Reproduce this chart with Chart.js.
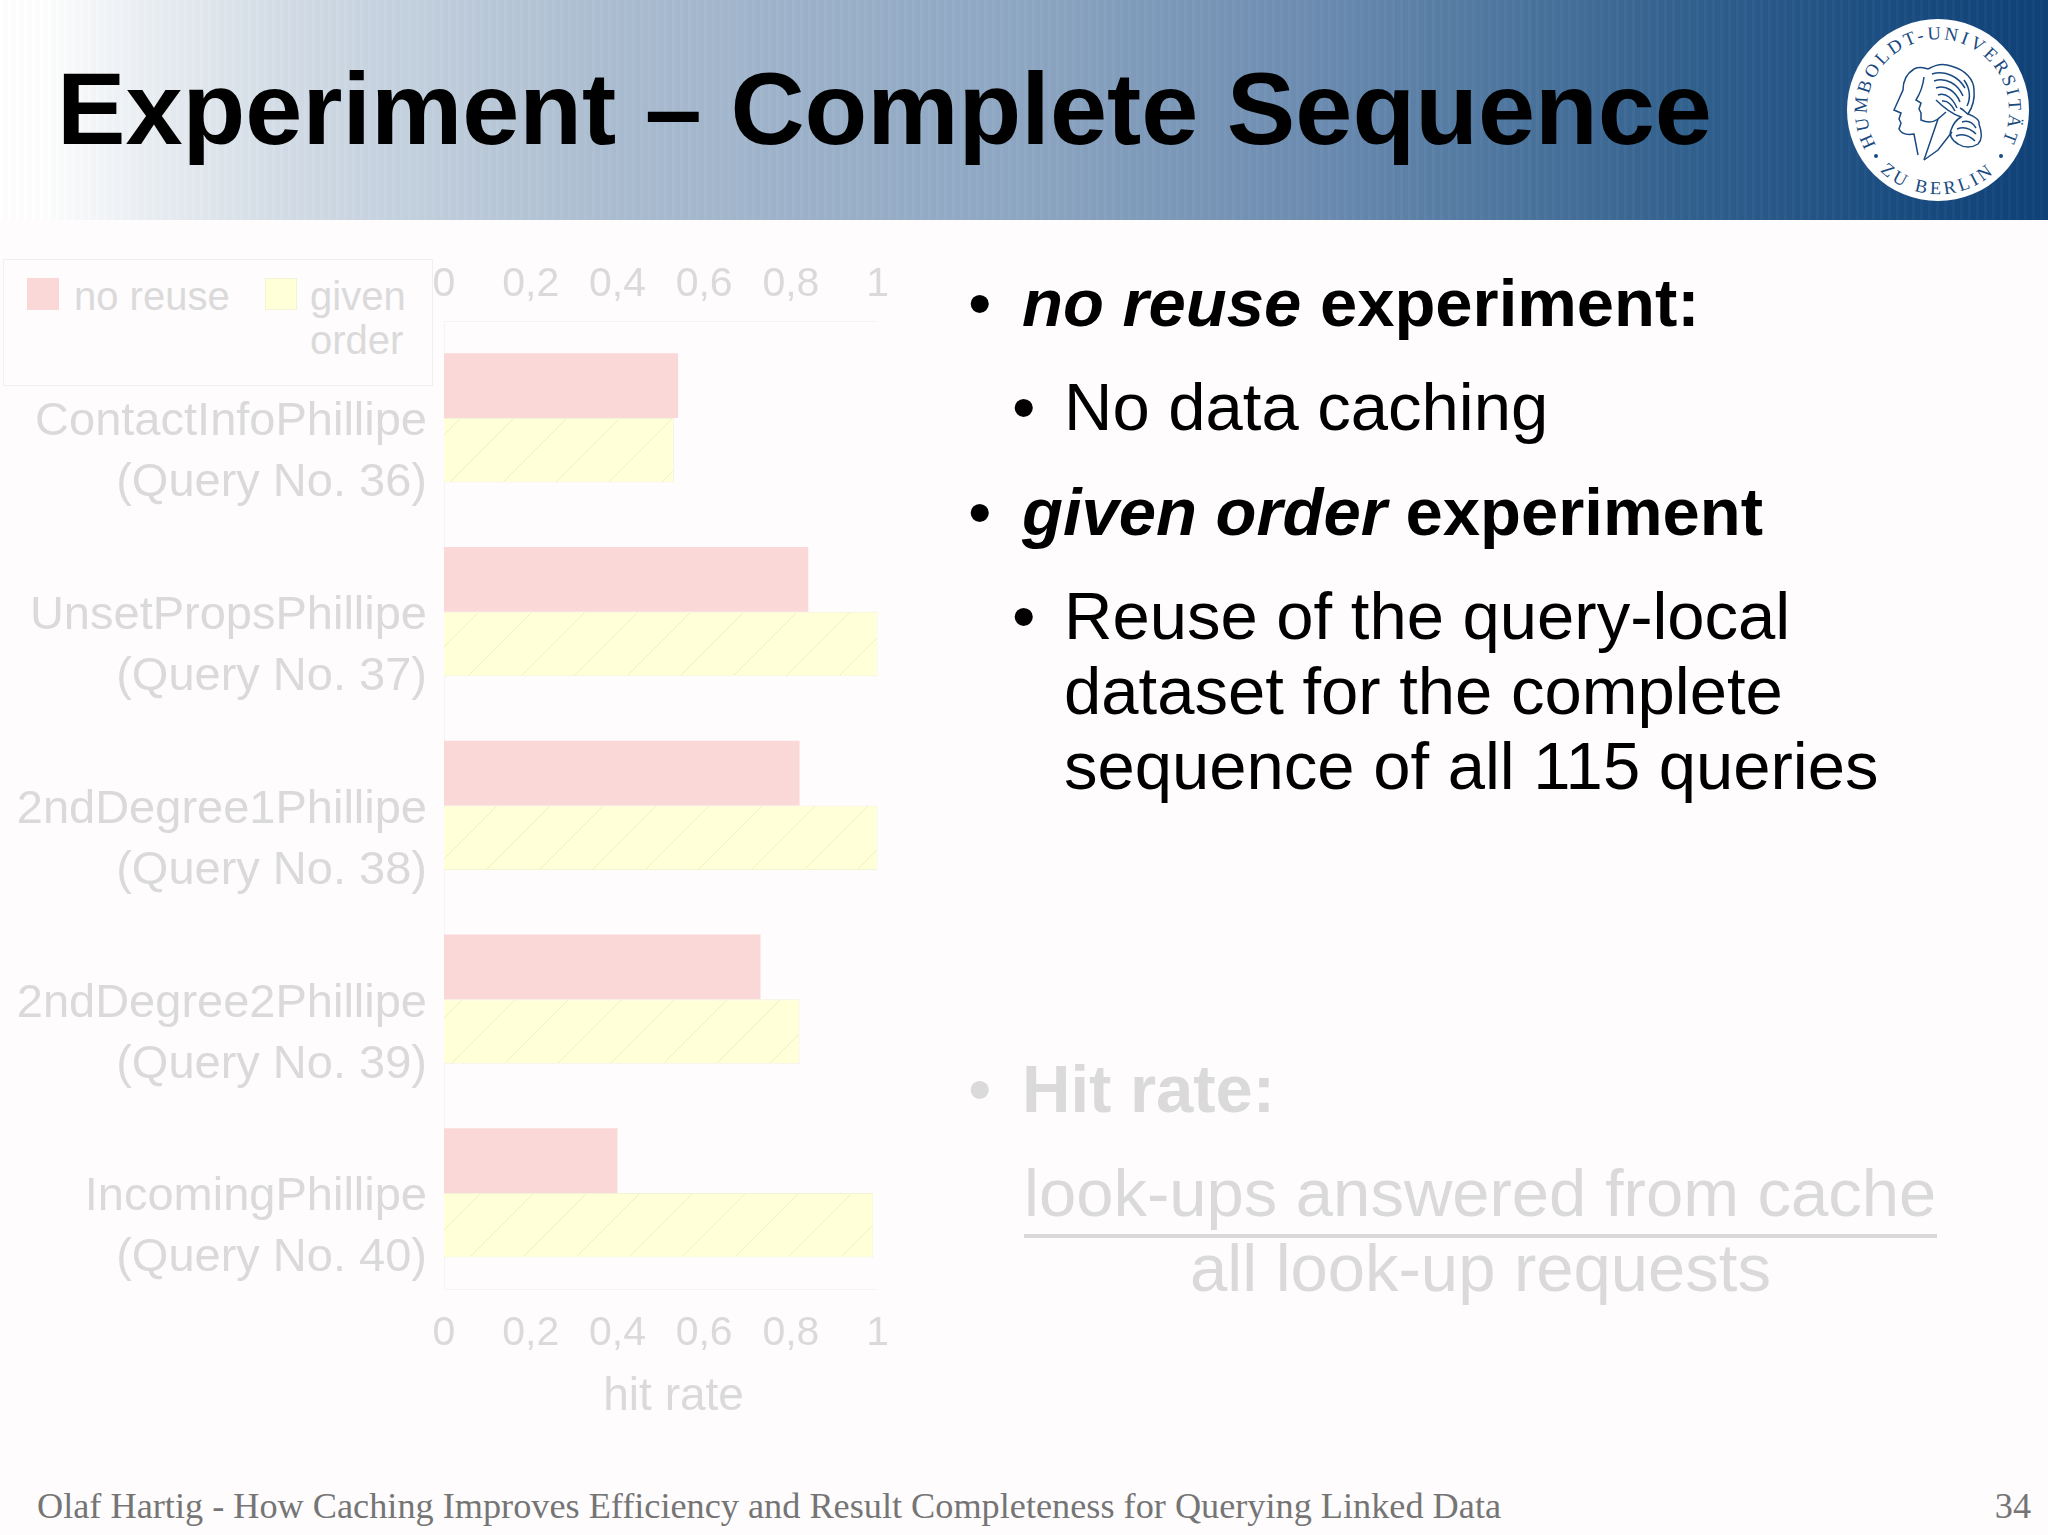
<!DOCTYPE html>
<html>
<head>
<meta charset="utf-8">
<title>Experiment – Complete Sequence</title>
<script src="https://cdn.jsdelivr.net/npm/chart.js@4"></script>
<style>
  html, body { margin: 0; padding: 0; }
  body { width: 2048px; height: 1535px; position: relative; overflow: hidden; background: #fefcfd; font-family: "Liberation Sans", sans-serif; }
  .abs { position: absolute; white-space: nowrap; }
  #cabecalho { left: 0; top: 0; width: 2048px; height: 220px;
    background: repeating-linear-gradient(90deg, rgba(255,255,255,0.025) 0 3px, rgba(0,0,0,0.012) 3px 8px),
                linear-gradient(90deg, #ffffff 0%, #ffffff 2%, #e8edf2 8%, #d3dde7 14%, #abbdd1 30%, #8ea7c3 50%, #6a8bb0 65%, #33628f 82%, #1c4e82 92%, #0f4177 100%); }
  #titulo { left: 57px; top: 50px; font-size: 102.7px; font-weight: bold; color: #000; }
  .texto { color: #000; font-size: 67px; line-height: 75px; }
  .apagado { color: #dbdada; }
  .ponto { font-size: 67px; }
  #rodape { left: 37px; top: 1485px; font-family: "Liberation Serif", serif; font-size: 36.25px; color: #757575; }
  #pagina { right: 17px; top: 1485px; font-family: "Liberation Serif", serif; font-size: 36.25px; color: #757575; }
  #fracao { left: 1024px; top: 1234px; width: 913px; height: 4px; background: #dbdada; }
  #legenda { left: 3px; top: 259px; width: 430px; height: 127px; border: 1px solid #f1efef; box-sizing: border-box; color: #dbdada; font-size: 40px; line-height: 44px; }
  .caixa { position: absolute; top: 18px; width: 32px; height: 32px; box-sizing: border-box; }
  .nome { position: absolute; top: 14px; }
  #areaGrafico { left: 0; top: 243px; width: 908px; height: 1177px; }
</style>
</head>
<body>
<div class="abs" id="cabecalho"></div>
<div class="abs" id="titulo">Experiment – Complete Sequence</div>

<svg class="abs" style="left:1836px;top:8px" width="204" height="204" viewBox="-102 -102 204 204">
  <circle r="91" fill="#ffffff"/>
  <defs>
    <path id="arcoCima" d="M -62 35 A 71 71 0 1 1 62 35"/>
    <path id="arcoBaixo" d="M -58 61 A 84 84 0 0 0 58 61"/>
  </defs>
  <text font-family="Liberation Serif" font-size="18.5" fill="#1a4a80"><textPath href="#arcoCima" textLength="290" lengthAdjust="spacing">HUMBOLDT-UNIVERSITÄT</textPath></text>
  <text font-family="Liberation Serif" font-size="18.5" fill="#1a4a80"><textPath href="#arcoBaixo" textLength="124" lengthAdjust="spacing">ZU BERLIN</textPath></text>
  <circle cx="-62" cy="46" r="2" fill="#1a4a80"/>
  <circle cx="63" cy="46" r="2" fill="#1a4a80"/>
  <g fill="none" stroke="#1a4a80" stroke-width="1.5">
    <path d="M -24 -41 C -32 -36 -35 -28 -35 -20 L -44 0 L -37 3 L -39 9 L -37 13 L -39 19 C -36 25 -30 25 -24 24 L -20 45"/>
    <path d="M -24 -41 C -18 -44 -14 -42 -10 -41"/>
    <path d="M -14 -33 C -15 -24 -17 -18 -22 -10 L -17 -7 L -19 -1 L -17 3 L -17 10 C -10 13 -4 12 0 9 L -14 50"/>
    <path d="M -10 -41 C 0 -47 8 -46 13 -44 C 28 -40 36 -30 36 -20 C 37 -10 34 -2 30 4 C 36 6 42 10 41 14 C 44 22 44 30 40 34 C 34 38 26 38 20 34 C 13 30 11 24 13 20 C 15 14 18 10 23 7 C 14 4 4 -4 -2 -10"/>
    <path d="M -6 -36 C 6 -40 20 -34 27 -22 M -4 -29 C 8 -33 20 -26 25 -14 M -2 -22 C 8 -26 18 -18 22 -8 M 0 -15 C 8 -18 15 -11 19 -2 M 4 -9 C 10 -10 14 -5 17 1"/>
    <path d="M 26 -30 C 32 -22 33 -12 29 -4 M 22 -2 C 26 0 28 3 30 4"/>
    <path d="M 24 12 C 30 10 35 13 38 18 M 19 19 C 26 16 33 19 38 24 M 18 26 C 25 23 32 26 37 31"/>
    <path d="M 0 9 L 8 2 M 14 22 L 0 40 L -14 50"/>
  </g>
</svg>

<div class="abs" id="legenda">
  <div class="caixa" id="caixa0" style="left:23px"></div>
  <div class="nome" id="nome0" style="left:70px"></div>
  <div class="caixa" id="caixa1" style="left:261px"></div>
  <div class="nome" id="nome1" style="left:306px"></div>
</div>

<div class="abs" id="areaGrafico"><canvas id="barraChart" width="908" height="1177"></canvas></div>

<div class="abs texto ponto" style="left:968px;top:265px">•</div>
<div class="abs texto" style="left:1022px;top:265px;font-weight:bold"><i>no reuse</i> experiment:</div>
<div class="abs texto ponto" style="left:1012px;top:369px">•</div>
<div class="abs texto" style="left:1064px;top:369px">No data caching</div>
<div class="abs texto ponto" style="left:968px;top:474px">•</div>
<div class="abs texto" style="left:1022px;top:474px;font-weight:bold"><i>given order</i> experiment</div>
<div class="abs texto ponto" style="left:1012px;top:578px">•</div>
<div class="abs texto" style="left:1064px;top:578px">Reuse of the query-local<br>dataset for the complete<br>sequence of all 115 queries</div>

<div class="abs texto ponto apagado" style="left:968px;top:1051px">•</div>
<div class="abs texto apagado" style="left:1022px;top:1051px;font-weight:bold">Hit rate:</div>
<div class="abs texto apagado" style="left:1024px;top:1155px">look-ups answered from cache</div>
<div class="abs" id="fracao"></div>
<div class="abs texto apagado" style="left:1024px;width:913px;top:1230px;text-align:center">all look-up requests</div>

<div class="abs" id="rodape">Olaf Hartig - How Caching Improves Efficiency and Result Completeness for Querying Linked Data</div>
<div class="abs" id="pagina">34</div>

<script>
/* ==============================================
   DADOS DO GRÁFICO
   ============================================== */
const categorias = [
    ['ContactInfoPhillipe', '(Query No. 36)'],
    ['UnsetPropsPhillipe', '(Query No. 37)'],
    ['2ndDegree1Phillipe', '(Query No. 38)'],
    ['2ndDegree2Phillipe', '(Query No. 39)'],
    ['IncomingPhillipe', '(Query No. 40)']
];
const noReuse = [0.54, 0.84, 0.82, 0.73, 0.40];
const givenOrder = [0.53, 1.0, 1.0, 0.82, 0.99];
const nomesSeries = ['no reuse', ['given', 'order']];
const tituloEixo = 'hit rate';

const corTexto = '#dbdada';
const corRosa = '#fad8d8';
const corAmarelo = '#ffffd8';

/* hachura diagonal da série amarela */
function criarHachura() {
    const tam = 53;
    const c = document.createElement('canvas');
    c.width = tam;
    c.height = tam;
    const g = c.getContext('2d');
    g.fillStyle = corAmarelo;
    g.fillRect(0, 0, tam, tam);
    g.strokeStyle = '#efefc4';
    g.lineWidth = 1;
    g.beginPath();
    g.moveTo(0, tam);
    g.lineTo(tam, 0);
    g.stroke();
    return g.createPattern(c, 'repeat');
}

const formatarTick = (v) => String(Math.round(v * 10) / 10).replace('.', ',');

function inicializarGrafico() {
    const ctx = document.getElementById('barraChart').getContext('2d');
    const hachura = criarHachura();

    new Chart(ctx, {
        type: 'bar',
        data: {
            labels: categorias,
            datasets: [
                { label: 'no reuse', data: noReuse, backgroundColor: corRosa, borderWidth: 0 },
                { label: 'given order', data: givenOrder, backgroundColor: hachura, borderColor: '#f3f3d6', borderWidth: 1 }
            ]
        },
        options: {
            indexAxis: 'y',
            responsive: false,
            animation: false,
            categoryPercentage: 0.667,
            barPercentage: 1,
            layout: { padding: { top: 3, bottom: 0, left: 0, right: 0 } },
            plugins: { legend: { display: false }, tooltip: { enabled: false } },
            scales: {
                y: {
                    grid: { display: false, drawTicks: false },
                    border: { color: '#f6f4f4' },
                    afterFit: (e) => { e.width = 444; },
                    ticks: { color: corTexto, font: { size: 47, family: 'Liberation Sans', lineHeight: 1.3 }, padding: 17, labelOffset: 35, autoSkip: false }
                },
                x: {
                    min: 0, max: 1,
                    position: 'bottom',
                    grid: { display: false, drawTicks: false },
                    border: { color: '#f6f4f4' },
                    /* os dois espaços deslocam o título para a direita, como no original */
                    title: { display: true, text: '\u00a0\u00a0' + tituloEixo, color: corTexto, font: { size: 46, family: 'Liberation Sans', lineHeight: 1 }, padding: { top: -3, bottom: 0 } },
                    ticks: { stepSize: 0.2, color: corTexto, font: { size: 41, family: 'Liberation Sans' }, padding: 19, maxRotation: 0, callback: formatarTick }
                },
                xTopo: {
                    min: 0, max: 1,
                    position: 'top',
                    axis: 'x',
                    grid: { display: false, drawTicks: false },
                    border: { color: '#f6f4f4' },
                    ticks: { stepSize: 0.2, color: corTexto, font: { size: 41, family: 'Liberation Sans' }, padding: 12, maxRotation: 0, callback: formatarTick }
                }
            }
        }
    });

    /* legenda em HTML para permitir a quebra de linha */
    document.getElementById('caixa0').style.background = corRosa;
    document.getElementById('caixa1').style.background = corAmarelo;
    document.getElementById('caixa1').style.border = '1px solid #f3f3d6';
    document.getElementById('nome0').innerText = nomesSeries[0];
    document.getElementById('nome1').innerHTML = nomesSeries[1].join('<br>');
}

window.onload = inicializarGrafico;
</script>
</body>
</html>
